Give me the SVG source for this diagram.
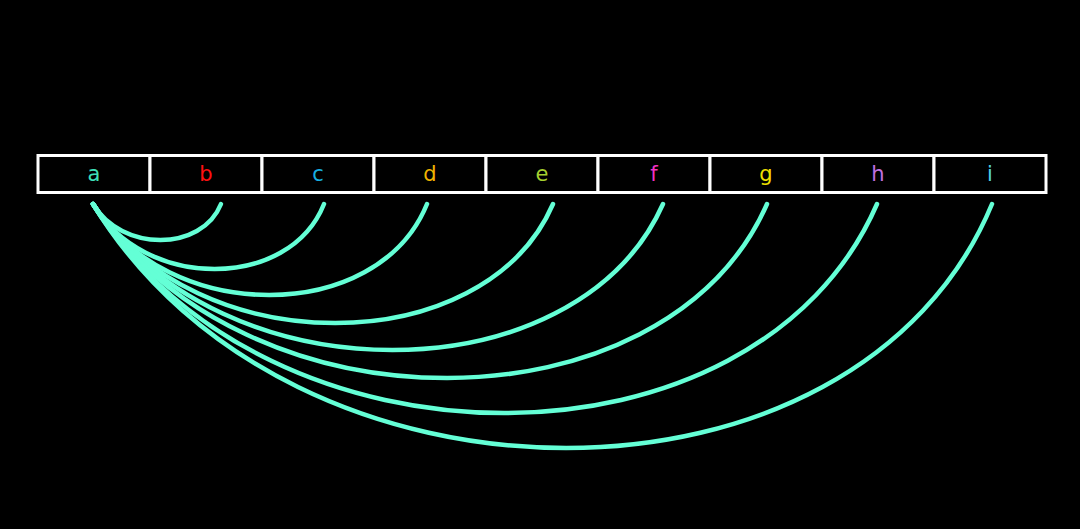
<svg xmlns="http://www.w3.org/2000/svg" width="1080" height="529" viewBox="0 0 1080 529">
<style>
.cell{fill:#000;stroke:#fff;stroke-width:3}
.lbl{font-family:"DejaVu Sans",sans-serif;font-size:21px;text-anchor:middle}
.arc{fill:none;stroke:#64ffd6;stroke-width:4.5;stroke-linecap:round}
</style>
<rect width="1080" height="529" fill="#000"/>
<g id="node-a"><rect class="cell" x="38" y="155.5" width="112" height="37"/><text class="lbl" x="94" y="180.5" fill="#3fe0b8">a</text></g>
<g id="node-b"><rect class="cell" x="150" y="155.5" width="112" height="37"/><text class="lbl" x="206" y="180.5" fill="#ff1010">b</text></g>
<g id="node-c"><rect class="cell" x="262" y="155.5" width="112" height="37"/><text class="lbl" x="318" y="180.5" fill="#18b0e0">c</text></g>
<g id="node-d"><rect class="cell" x="374" y="155.5" width="112" height="37"/><text class="lbl" x="430" y="180.5" fill="#f0b400">d</text></g>
<g id="node-e"><rect class="cell" x="486" y="155.5" width="112" height="37"/><text class="lbl" x="542" y="180.5" fill="#a4d030">e</text></g>
<g id="node-f"><rect class="cell" x="598" y="155.5" width="112" height="37"/><text class="lbl" x="654" y="180.5" fill="#f030c0">f</text></g>
<g id="node-g"><rect class="cell" x="710" y="155.5" width="112" height="37"/><text class="lbl" x="766" y="180.5" fill="#f0e000">g</text></g>
<g id="node-h"><rect class="cell" x="822" y="155.5" width="112" height="37"/><text class="lbl" x="878" y="180.5" fill="#c070e0">h</text></g>
<g id="node-i"><rect class="cell" x="934" y="155.5" width="112" height="37"/><text class="lbl" x="990" y="180.5" fill="#50d0e0">i</text></g>
<g id="connectors">
<path class="arc" d="M93,204 C121.2,252 201.8,252 221,204"/>
<path class="arc" d="M93,204 C143.8,290.7 289.4,290.7 324,204"/>
<path class="arc" d="M93,204 C166.7,325.3 377.7,325.3 427,204"/>
<path class="arc" d="M93,204 C194.4,362.7 484.1,362.7 553,204"/>
<path class="arc" d="M93,204 C218.4,398.7 575.8,398.7 663,204"/>
<path class="arc" d="M93,204 C241.3,436 664.2,436 767,204"/>
<path class="arc" d="M93,204 C265.5,482.7 755.9,482.7 877,204"/>
<path class="arc" d="M93,204 C290.8,529.3 857.2,529.3 992,204"/>
</g>
</svg>
